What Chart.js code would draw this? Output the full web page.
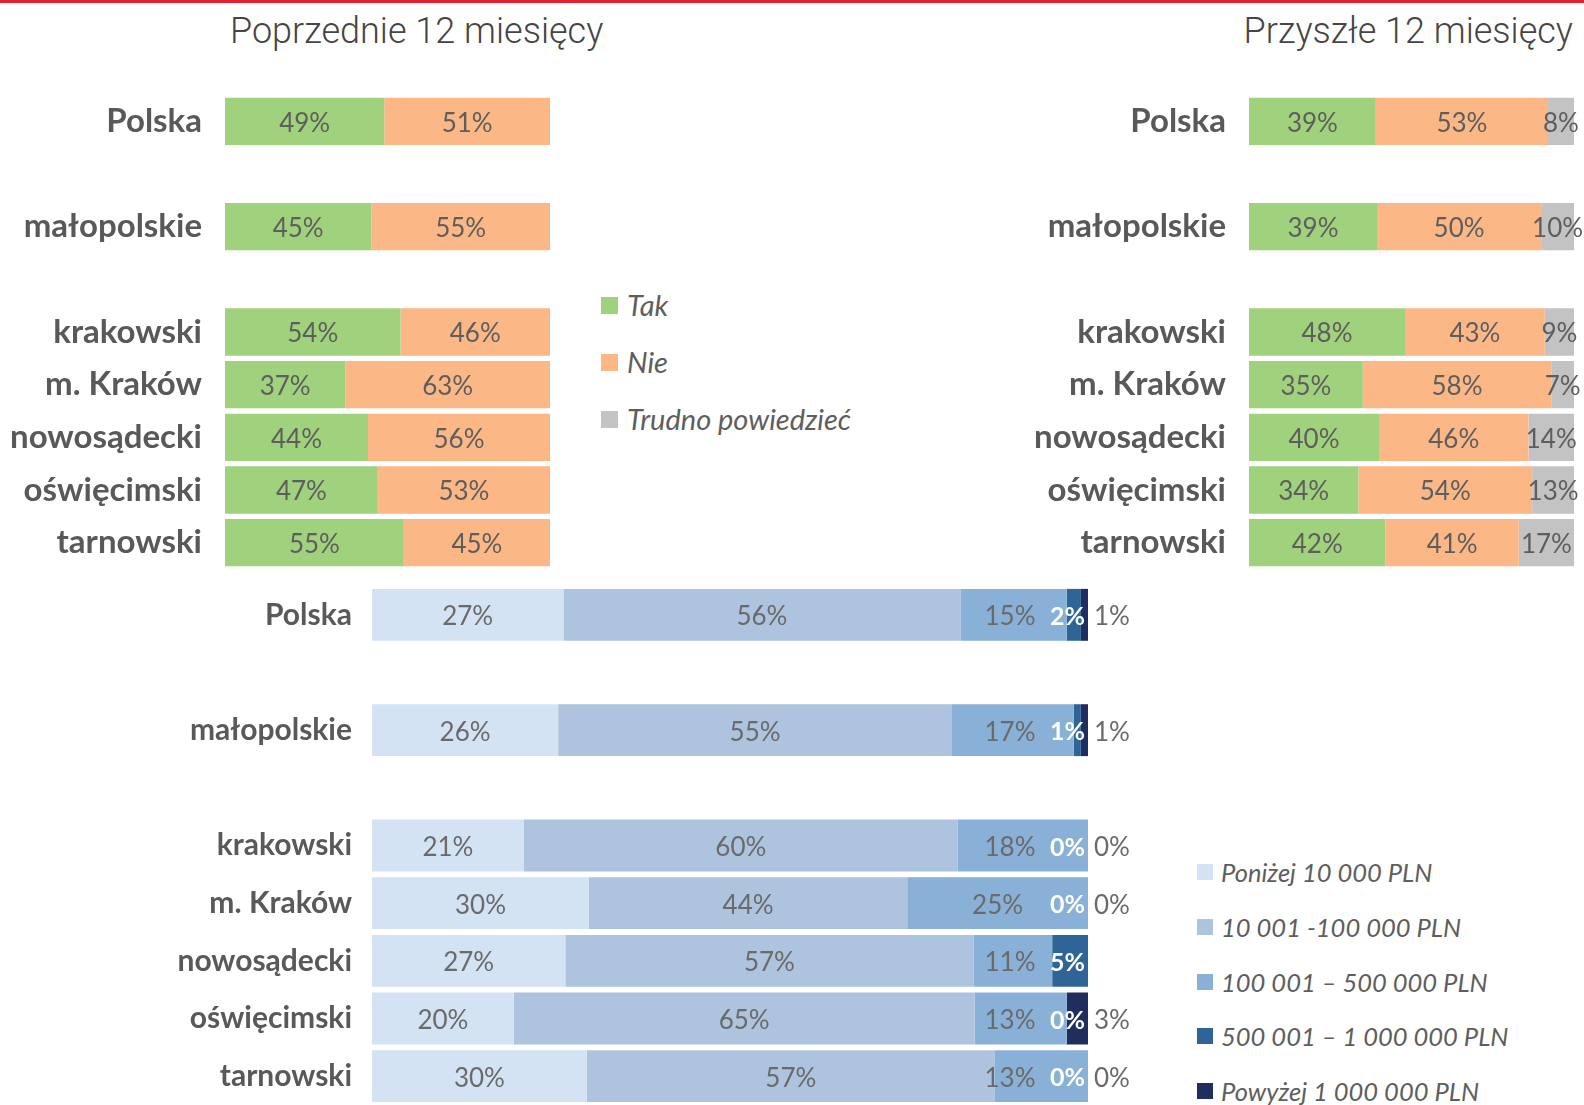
<!DOCTYPE html>
<html>
<head>
<meta charset="utf-8">
<script src="https://cdn.jsdelivr.net/npm/chart.js@4/dist/chart.umd.min.js"></script>
<style>
body{margin:0;width:1584px;height:1105px;background:#fff;position:relative;overflow:hidden;font-family:Lato,sans-serif}
.redline{position:absolute;left:0;top:0;width:1584px;height:3px;background:#e3202b}
.title{position:absolute;top:13px;font-family:Roboto,sans-serif;font-weight:300;font-size:36px;line-height:37px;color:#454545;white-space:nowrap}
canvas{position:absolute}
.item{position:absolute;height:30px;line-height:30px;display:flex;align-items:center;white-space:nowrap;font-style:italic;color:#5e5e5e}
.sw{display:inline-block;flex:none}
</style>
</head>
<body>
<div class="redline"></div>
<div class="title" style="left:230px">Poprzednie 12 miesięcy</div>
<div class="title" style="right:11px">Przyszłe 12 miesięcy</div>

<canvas id="prevChart" width="600" height="580" style="left:0;top:0"></canvas>
<canvas id="nextChart" width="584" height="580" style="left:1000px;top:0"></canvas>
<canvas id="invChart" width="1180" height="525" style="left:0;top:580px"></canvas>

<div id="legendTop"></div>
<div id="legendInv"></div>

<script>
var regions = ['Polska', 'małopolskie', 'krakowski', 'm. Kraków', 'nowosądecki', 'oświęcimski', 'tarnowski']

// poprzednie 12 miesiecy
var prevTak = [49, 45, 54, 37, 44, 47, 55]
var prevNie = [51, 55, 46, 63, 56, 53, 45]

// przyszle 12 miesiecy
var nextTak = [39, 39, 48, 35, 40, 34, 42]
var nextNie = [53, 50, 43, 58, 46, 54, 41]
var nextTrudno = [8, 10, 9, 7, 14, 13, 17]

// kwota inwestycji
var invBelow10k = [27, 26, 21, 30, 27, 20, 30]
var inv10to100k = [56, 55, 60, 44, 57, 65, 57]
var inv100to500k = [15, 17, 18, 25, 11, 13, 13]
var inv500kto1m = [2, 1, 0, 0, 5, 0, 0]
var invAbove1m = [1, 1, 0, 0, null, 3, 0]

var answerNames = ['Tak', 'Nie', 'Trudno powiedzieć']
var answerColors = ['#a0d17c', '#fbb785', '#c3c3c3']
var invNames = ['Poniżej 10 000 PLN', '10 001 -100 000 PLN', '100 001 – 500 000 PLN', '500 001 – 1 000 000 PLN', 'Powyżej 1 000 000 PLN']
var invColors = ['#d4e3f3', '#adc3de', '#89b0d7', '#2e6596', '#1f2d5f']

// empty rows after Polska and after małopolskie
function withGaps(arr, blank){
    var out = arr.slice()
    out.splice(2, 0, blank)
    out.splice(1, 0, blank)
    return out
}

// each bar is drawn as a share of its row total (100% stacked)
function shares(series, index){
    return series[index].map(function(v, i){
        var sum = 0
        series.forEach(function(s){ sum += (s[i] || 0) })
        return v === null ? null : v / sum * 100
    })
}

var labelFont = '26px Lato'
var valueLabels = {
    id: 'valueLabels',
    afterDatasetsDraw: function(chart){
        var ctx = chart.ctx
        var area = chart.chartArea
        chart.data.datasets.forEach(function(ds, d){
            var meta = chart.getDatasetMeta(d)
            meta.data.forEach(function(bar, i){
                var v = ds.raw[i]
                if(v === null || v === undefined) return
                var left = Math.min(bar.x, bar.base), right = Math.max(bar.x, bar.base)
                var x = (left + right) / 2, align = 'center'
                if(ds.labelPos == 'clamp') x = Math.min(x, area.right - 78)
                if(ds.labelPos == 'insideEnd'){ x = area.right - 3; align = 'right' }
                if(ds.labelPos == 'outside'){ x = area.right + 6; align = 'left' }
                ctx.save()
                ctx.font = ds.labelFont || labelFont
                ctx.fillStyle = ds.labelColor || '#5e5e5e'
                ctx.textAlign = align
                ctx.textBaseline = 'middle'
                ctx.fillText(v + '%', x, bar.y + 2)
                ctx.restore()
            })
        })
    }
}

function makeDatasets(series, names, colors, extra){
    return series.map(function(s, k){
        var ds = {
            label: names[k],
            data: withGaps(shares(series, k), null),
            raw: withGaps(s, null),
            backgroundColor: colors[k],
            borderWidth: 0
        }
        if(extra && extra[k]) Object.assign(ds, extra[k])
        return ds
    })
}

function makeChart(id, datasets, padding, axisWidth, tickPad, tickSize){
    return new Chart(document.getElementById(id), {
        type: 'bar',
        data: {labels: withGaps(regions, ''), datasets: datasets},
        options: {
            indexAxis: 'y',
            responsive: false,
            animation: false,
            devicePixelRatio: 1,
            layout: {padding: padding},
            plugins: {legend: {display: false}, tooltip: {enabled: false}},
            datasets: {bar: {barPercentage: 0.9, categoryPercentage: 1}},
            scales: {
                x: {display: false, stacked: true, min: 0, max: 100},
                y: {
                    stacked: true,
                    border: {display: false},
                    grid: {display: false, drawTicks: false},
                    ticks: {color: '#595959', font: {family: 'Lato', weight: 'bold', size: tickSize}, padding: tickPad},
                    afterFit: function(scale){
                        scale.width = axisWidth
                        // keep the plot area exactly where the padding puts it
                        scale.paddingTop = 0
                        scale.paddingBottom = 0
                    }
                }
            }
        },
        plugins: [valueLabels]
    })
}

makeChart('prevChart', makeDatasets([prevTak, prevNie], answerNames, answerColors),
    {top: 95, bottom: 11, right: 50, left: 0}, 225, 23, 33)

makeChart('nextChart', makeDatasets([nextTak, nextNie, nextTrudno], answerNames, answerColors),
    {top: 95, bottom: 11, right: 10, left: 0}, 249, 23, 33)

var white = {labelPos: 'insideEnd', labelColor: '#ffffff', labelFont: 'bold 25px Lato'}
makeChart('invChart', makeDatasets([invBelow10k, inv10to100k, inv100to500k, inv500kto1m, invAbove1m], invNames, invColors,
    [{labelColor: '#6a6a6a'}, {labelColor: '#6a6a6a'}, {labelColor: '#6a6a6a', labelPos: 'clamp'}, white,
     {labelColor: '#6a6a6a', labelPos: 'outside'}]),
    {top: 6, bottom: 0, right: 92, left: 0}, 372, 20, 30)

// legends
function legend(boxId, names, colors, left, tops, sw, gap, size){
    var box = document.getElementById(boxId)
    names.forEach(function(n, i){
        var it = document.createElement('div')
        it.className = 'item'
        it.style.left = left + 'px'
        it.style.top = (tops[i] - 15) + 'px'
        it.style.fontSize = size + 'px'
        it.innerHTML = '<span class="sw" style="width:' + sw + 'px;height:' + sw + 'px;margin-right:' + gap + 'px;background:' + colors[i] + '"></span>' + n
        box.appendChild(it)
    })
}
legend('legendTop', answerNames, answerColors, 601, [305, 362, 419], 17, 9, 29)
legend('legendInv', invNames, invColors, 1197, [872, 927, 982, 1036, 1091], 16, 8, 25.5)
</script>
</body>
</html>
